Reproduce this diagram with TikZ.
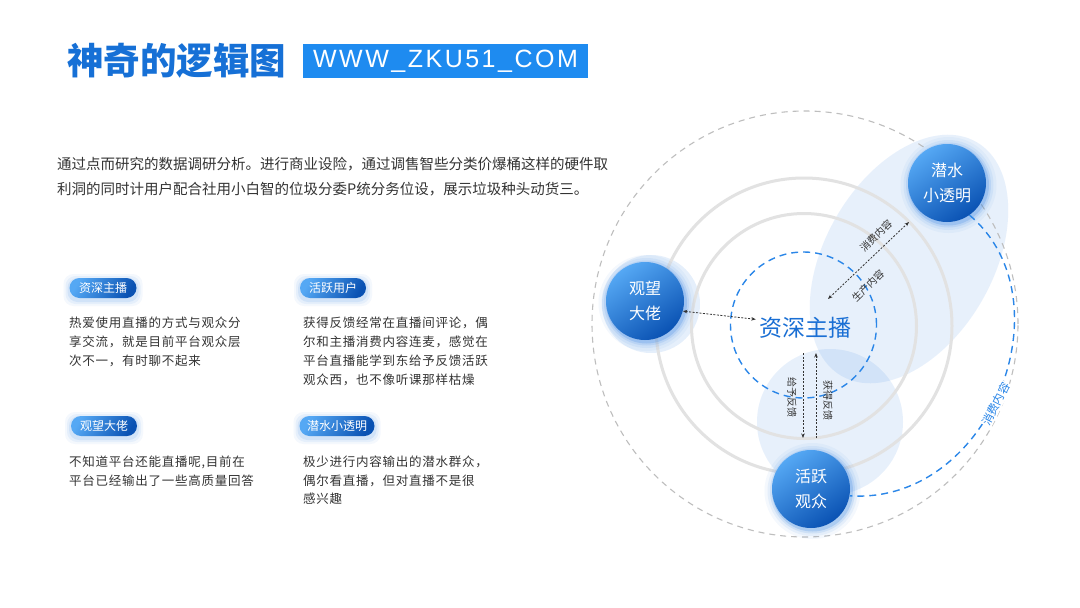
\documentclass[tikz,border=0pt]{standalone}
\usepackage{fontspec}
\setmainfont{Noto Sans CJK SC}
\newfontfamily\cjk{Noto Sans CJK SC}
\newfontfamily\cjksp[LetterSpace=6]{Noto Sans CJK SC}
\newfontfamily\urlfont[LetterSpace=10]{Liberation Sans}
\usetikzlibrary{arrows.meta,calc}
\definecolor{titleblue}{HTML}{1670D6}
\definecolor{boxblue}{HTML}{1E8BF0}
\definecolor{nodeL}{HTML}{55A8F4}
\definecolor{nodeD}{HTML}{0A52B3}
\definecolor{txt}{HTML}{333333}
\definecolor{gring}{HTML}{E2E2E2}
\definecolor{gdash}{HTML}{BEBEBE}
\definecolor{bdash}{HTML}{2A86E8}
\definecolor{pale}{HTML}{2A7DE1}
\definecolor{centerblue}{HTML}{1A6FD4}
\tikzset{
  bignode/.style={circle, minimum size=78pt, inner sep=0pt, top color=nodeL, bottom color=nodeD, shading angle=35, text=white, font=\cjk\fontsize{16}{25}\selectfont, align=center},
  pill/.style={rounded corners=10pt, minimum height=20pt, inner sep=0pt, top color=nodeL, bottom color=nodeD, shading angle=60, text=white, font=\cjk\fontsize{12}{14}\selectfont},
  cardtext/.style={anchor=north west, inner sep=0pt, align=left, text=txt, font=\cjksp\fontsize{12.5}{19}\selectfont},
  dotarrow/.style={draw=txt, line width=0.8pt, dash pattern=on 2pt off 1.5pt},
  smalllabel/.style={text=txt, font=\cjk\fontsize{10}{12}\selectfont, inner sep=1pt},
}
\begin{document}
\begin{tikzpicture}[x=1pt,y=-1pt]
\useasboundingbox[fill=white] (0,0) rectangle (1080,608);

% ---------- title ----------
\node[anchor=west, inner sep=0pt, text=titleblue, font=\cjk\bfseries\fontsize{36.5}{40}\selectfont] (title) at (67,61) {神奇的逻辑图};
\node[fill=boxblue, minimum width=285pt, minimum height=34pt, inner sep=0pt, text=white, font=\urlfont\fontsize{25}{28}\selectfont] (url) at (445.5,61) {WWW\_ZKU51\_COM};

% ---------- paragraph ----------
\node[anchor=north west, inner sep=0pt, align=left, text=txt, font=\cjk\fontsize{14.5}{25}\selectfont] (para) at (57,157.5)
{通过点而研究的数据调研分析。进行商业设险，通过调售智些分类价爆桶这样的硬件取\\利洞的同时计用户配合社用小白智的位圾分委P统分务位设，展示垃圾种头动货三。};

% ---------- pills ----------
\foreach \cx/\cy/\w in {103/288/67, 333/288/66, 104/426/66, 337/426/75}{
  \foreach \e/\o in {6/0.05, 4/0.07, 2/0.1}{
    \fill[pale, opacity=\o, rounded corners=10pt] (\cx-\w/2-\e, \cy-10-\e+2) rectangle (\cx+\w/2+\e, \cy+10+\e+2);
  }
}
\node[pill, minimum width=67pt] (p1) at (103,288) {资深主播};
\node[pill, minimum width=66pt] (p2) at (333,288) {活跃用户};
\node[pill, minimum width=66pt] (p3) at (104,426) {观望大佬};
\node[pill, minimum width=75pt] (p4) at (337,426) {潜水小透明};

% ---------- card texts ----------
\node[cardtext] (t1) at (69,317) {热爱使用直播的方式与观众分\\享交流，就是目前平台观众层\\次不一，有时聊不起来};
\node[cardtext] (t2) at (303,317) {获得反馈经常在直播间评论，偶\\尔和主播消费内容连麦，感觉在\\平台直播能学到东给予反馈活跃\\观众西，也不像听课那样枯燥};
\node[cardtext, font=\cjksp\fontsize{12.5}{18.5}\selectfont] (t3) at (69,456) {不知道平台还能直播呢,目前在\\平台已经输出了一些高质量回答};
\node[cardtext, font=\cjksp\fontsize{12.5}{18.5}\selectfont] (t4) at (303,456) {极少进行内容输出的潜水群众，\\偶尔看直播，但对直播不是很\\感兴趣};

% ---------- diagram background ----------
\fill[pale, opacity=0.11, rotate around={60:(909,259)}] (909,259) ellipse [x radius=135pt, y radius=84pt];
\fill[pale, opacity=0.11] (830,422) circle (73pt);
\fill[pale, opacity=0.12] (651,304) circle (49pt);

% rings
\draw[gdash, line width=1.1pt, dash pattern=on 6pt off 5pt] (805,324) circle (213pt);
\draw[gring, line width=3pt] (804,326) circle (148pt);
\draw[gring, line width=3pt] (804,326) circle (112.5pt);
\draw[bdash, line width=1.4pt, dash pattern=on 7pt off 5pt] (803.5,325) circle (73pt);

% node glows
\coordinate (cgw) at (645,301);
\coordinate (cqs) at (947,183);
\coordinate (chy) at (811,489);
\foreach \c in {cgw,cqs,chy}{
  \foreach \r/\o in {48/0.05, 45/0.08, 42.5/0.12, 40.5/0.2}{
    \fill[pale, opacity=\o] ($(\c)+(1.5,2)$) circle (\r pt);
  }
}

% nodes
\node[bignode] (gw) at (cgw) {观望\\大佬};
\node[bignode] (qs) at (cqs) {潜水\\小透明};
\node[bignode] (hy) at (chy) {活跃\\观众};
\node[text=centerblue, font=\cjk\fontsize{23}{26}\selectfont, inner sep=3pt] (zs) at (805,328) {资深主播};

% blue dashed arc between 潜水 and 活跃
\draw[bdash, line width=1.4pt, dash pattern=on 7pt off 5pt] (qs.-55) .. controls (1070,300) and (990,505) .. (hy.-10);
\node[fill=white, inner sep=1pt, rotate=63, text=bdash, font=\cjk\fontsize{11.5}{13}\selectfont] (lbl) at (996,404) {消费内容};

% dotted arrows
\draw[dotarrow, {Stealth[length=4.5pt,width=3.5pt]}-{Stealth[length=4.5pt,width=3.5pt]}] (gw.-15) -- (zs.170);
\coordinate (d1) at (828,299);
\coordinate (d2) at (909,222);
\draw[dotarrow, {Stealth[length=4.5pt,width=3.5pt]}-{Stealth[length=4.5pt,width=3.5pt]}] (d1) -- (d2);
\node[smalllabel, rotate=44] (l1) at (876,236) {消费内容};
\node[smalllabel, rotate=44] (l2) at (868,286) {生产内容};

\coordinate (v1a) at (803,353);
\coordinate (v1b) at (803,438);
\coordinate (v2a) at (816,438);
\coordinate (v2b) at (816,353);
\draw[dotarrow, -{Stealth[length=4.5pt,width=3.5pt]}] (v1a) -- (v1b);
\draw[dotarrow, -{Stealth[length=4.5pt,width=3.5pt]}] (v2a) -- (v2b);
\node[smalllabel, rotate=-90] (l3) at (792,397) {给予反馈};
\node[smalllabel, rotate=-90] (l4) at (828,400) {获得反馈};
\end{tikzpicture}
\end{document}
